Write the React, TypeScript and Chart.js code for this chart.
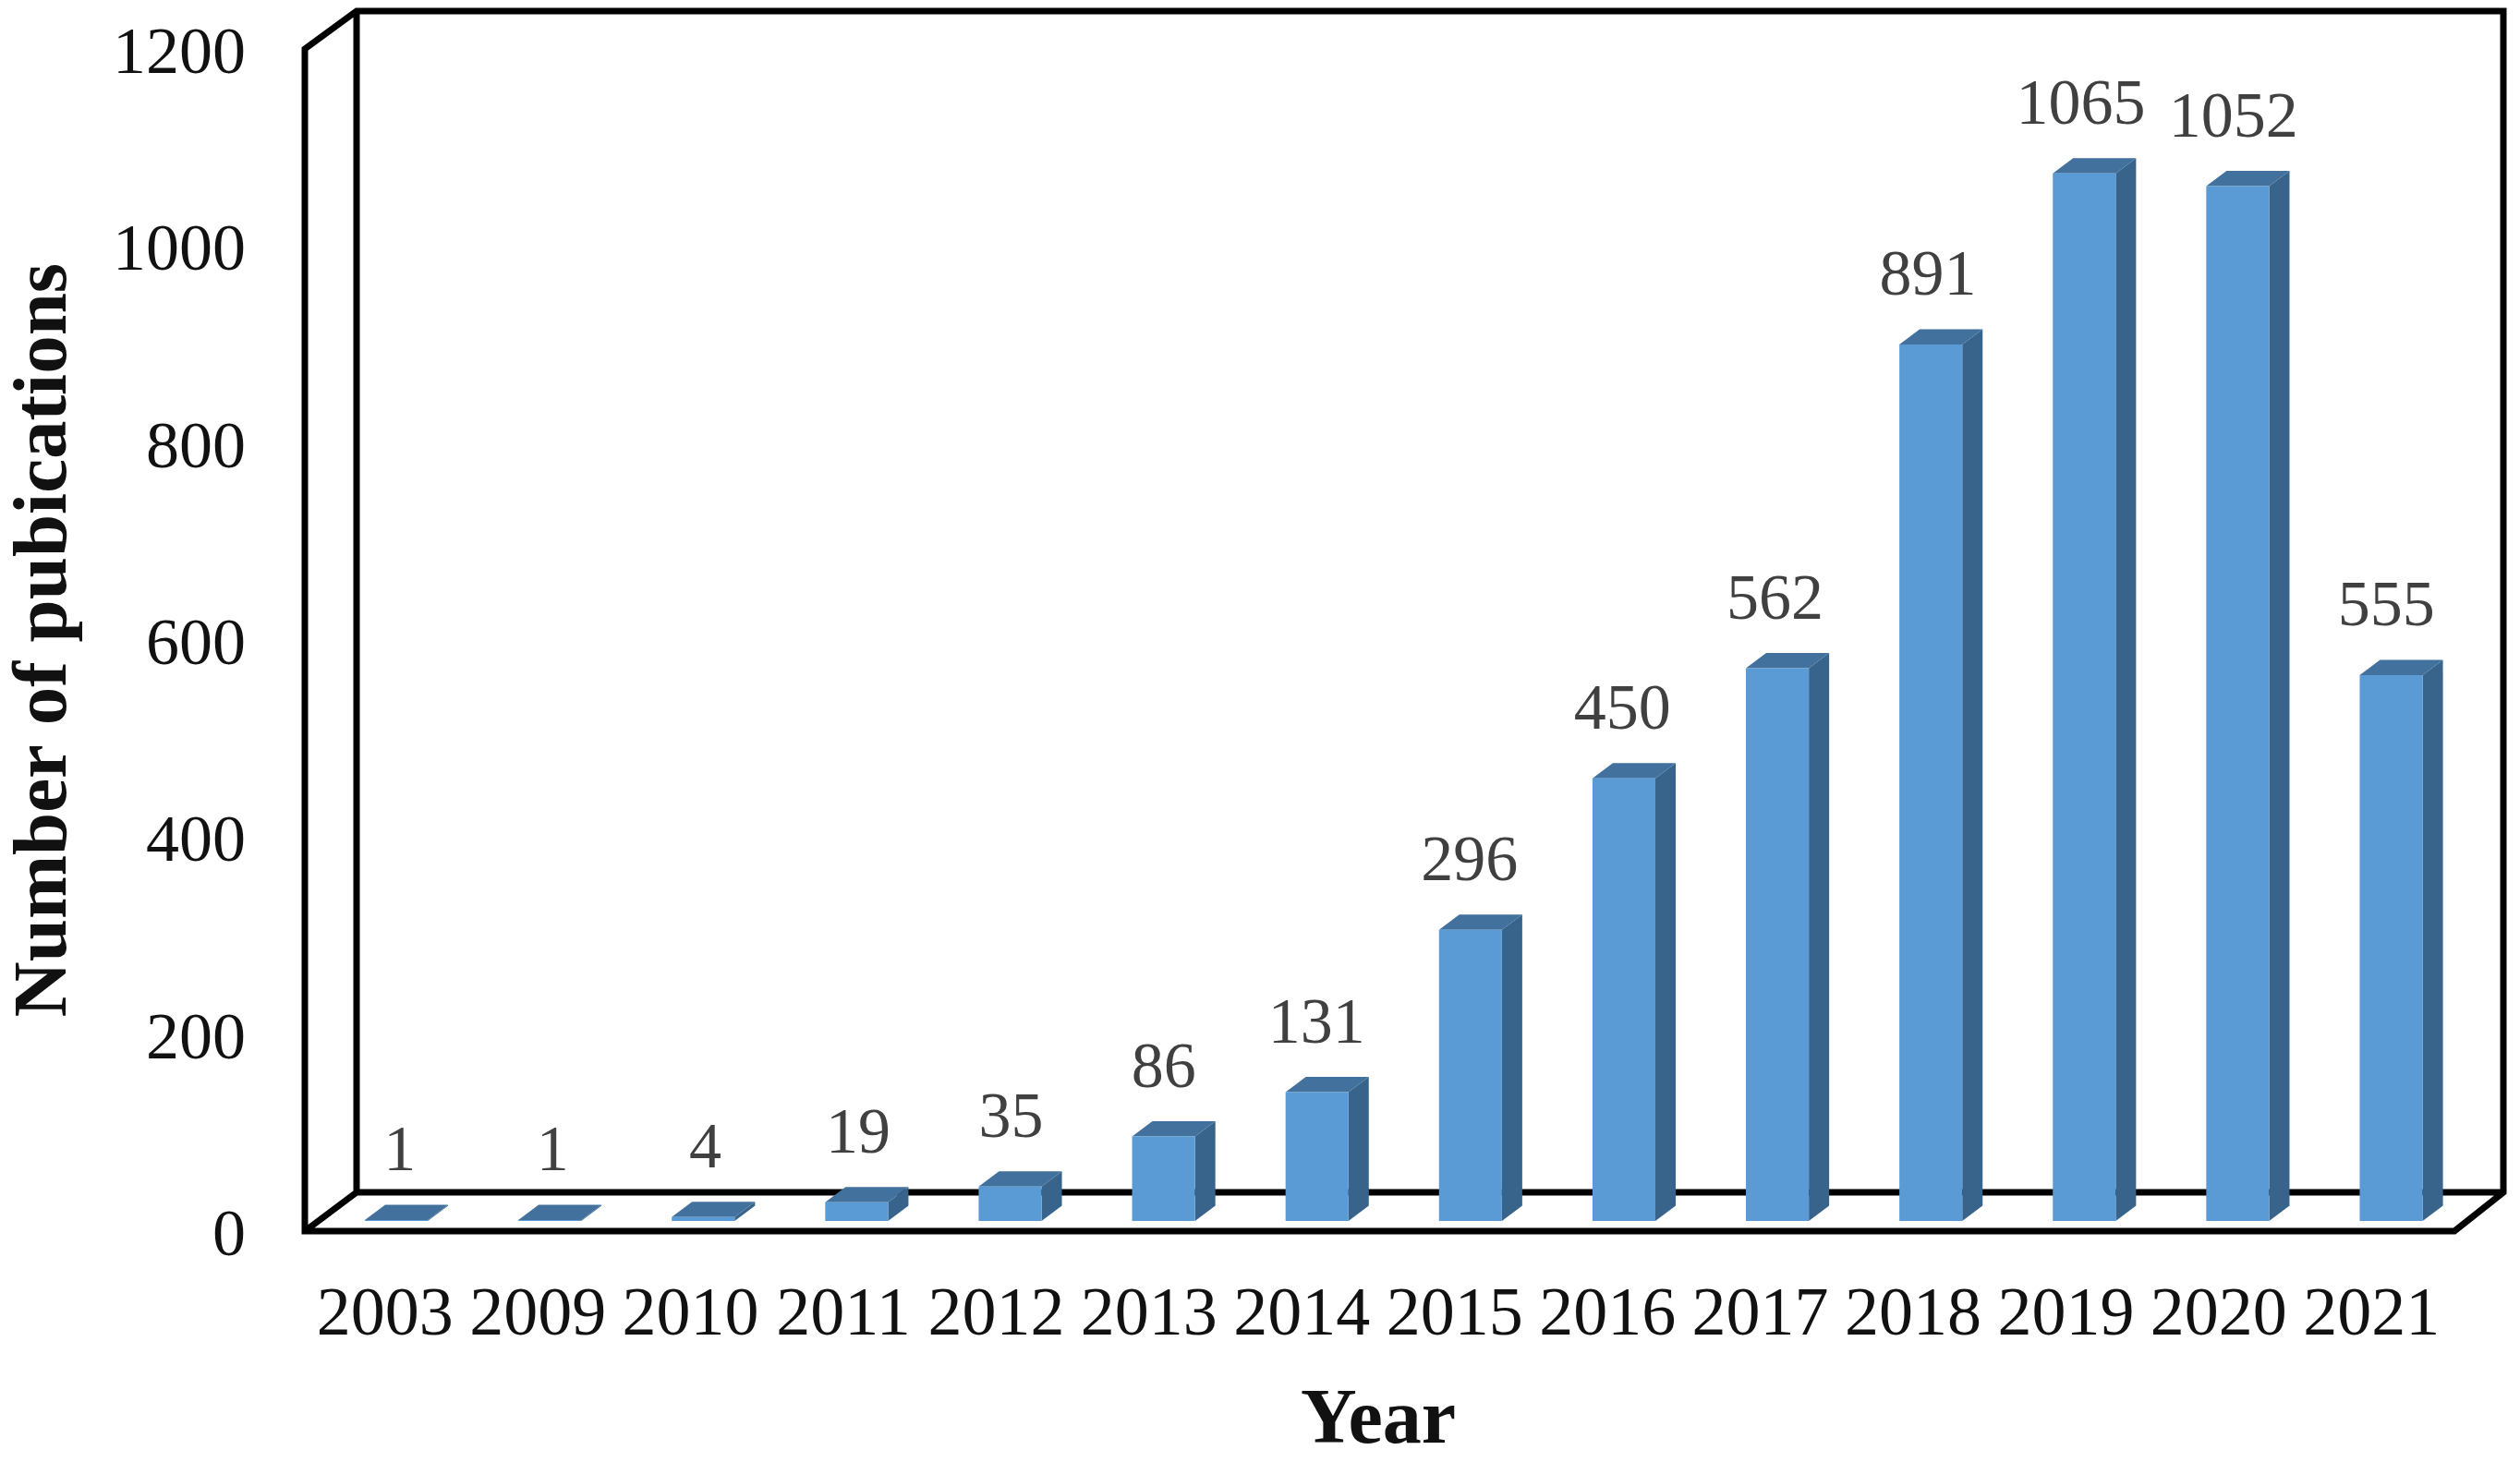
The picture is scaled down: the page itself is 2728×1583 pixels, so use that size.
import React, { useEffect, useRef } from "react";
import { Chart, registerables } from "chart.js";

Chart.register(...registerables);

const categories = ["2003", "2009", "2010", "2011", "2012", "2013", "2014", "2015", "2016", "2017", "2018", "2019", "2020", "2021"];
const publications = [1, 1, 4, 19, 35, 86, 131, 296, 450, 562, 891, 1065, 1052, 555];
const yTicks = [0, 200, 400, 600, 800, 1000, 1200];

const SERIF = "'Liberation Serif', 'Times New Roman', serif";
const FRONT = "#5B9BD5";
const TOP = "#41719C";
const SIDE = "#38648C";
const DX = 22;
const DY = 16.5;

const box3d = {
  id: "box3d",
  beforeDatasetsDraw(chart: any) {
    const { ctx, chartArea: a } = chart;
    const fl = a.left - 4;
    const fr = a.right + 7;
    const fb = a.bottom;
    const ft = a.top;
    const bl = fl + 56;
    const br = a.right + 60;
    const bb = fb - 42;
    const bt = ft - 41;
    ctx.save();
    ctx.strokeStyle = "#000";
    ctx.lineWidth = 7;
    ctx.lineJoin = "miter";
    ctx.beginPath();
    ctx.moveTo(fl, fb);
    ctx.lineTo(fl, ft);
    ctx.lineTo(bl, bt);
    ctx.lineTo(br, bt);
    ctx.lineTo(br, bb);
    ctx.lineTo(fr, fb);
    ctx.closePath();
    ctx.moveTo(bl, bt);
    ctx.lineTo(bl, bb);
    ctx.lineTo(fl, fb);
    ctx.moveTo(bl, bb);
    ctx.lineTo(br, bb);
    ctx.stroke();

    chart.getDatasetMeta(0).data.forEach((bar: any) => {
      const l = bar.x - bar.width / 2;
      const r = bar.x + bar.width / 2;
      ctx.fillStyle = SIDE;
      ctx.beginPath();
      ctx.moveTo(r, bar.base);
      ctx.lineTo(r + DX, bar.base - DY);
      ctx.lineTo(r + DX, bar.y - DY);
      ctx.lineTo(r, bar.y);
      ctx.closePath();
      ctx.fill();
      ctx.fillStyle = TOP;
      ctx.beginPath();
      ctx.moveTo(l, bar.y);
      ctx.lineTo(l + DX, bar.y - DY);
      ctx.lineTo(r + DX, bar.y - DY);
      ctx.lineTo(r, bar.y);
      ctx.closePath();
      ctx.fill();
    });
    ctx.restore();
  },
  afterDatasetsDraw(chart: any) {
    const { ctx } = chart;
    ctx.save();
    ctx.font = `70px ${SERIF}`;
    ctx.fillStyle = "#404040";
    ctx.textAlign = "center";
    ctx.textBaseline = "middle";
    chart.getDatasetMeta(0).data.forEach((bar: any, i: number) => {
      ctx.fillText(String(publications[i]), chart.scales.x.getPixelForValue(i) + 16, bar.y - 72);
    });
    ctx.restore();
  },
};

export default function App() {
  const ref = useRef<HTMLCanvasElement>(null);
  useEffect(() => {
    document.body.style.margin = "0";
    document.body.style.background = "#fff";
    const chart = new Chart(ref.current!, {
      type: "bar",
      plugins: [box3d],
      data: {
        labels: categories,
        datasets: [
          {
            label: "Number of pubications",
            data: publications.map((v, i) => ({ x: i, y: v })),
            xAxisID: "xBars",
            yAxisID: "yBars",
            backgroundColor: FRONT,
            borderWidth: 0,
            barPercentage: 0.41,
            categoryPercentage: 1,
          },
        ],
      },
      options: {
        responsive: false,
        animation: false,
        devicePixelRatio: 1,
        layout: { padding: { top: 53, right: 78, bottom: 0, left: 0 } },
        plugins: { legend: { display: false }, tooltip: { enabled: false }, title: { display: false } },
        scales: {
          x: {
            type: "category",
            position: "bottom",
            grid: { display: false, drawTicks: false },
            border: { display: false },
            ticks: { color: "#111", font: { family: SERIF, size: 74 }, padding: 48, maxRotation: 0, minRotation: 0, autoSkip: false },
            title: { display: true, text: "Year", color: "#111", font: { family: SERIF, size: 84, weight: "bold" }, padding: { top: 0, bottom: -8 } },
            afterFit: (s: any) => { s.height = 250; },
          },
          xBars: {
            type: "linear",
            display: false,
            min: -0.572,
            max: 13.37,
            offset: false,
            afterBuildTicks: (s: any) => { s.ticks = categories.map((_, i) => ({ value: i })); },
          },
          y: {
            type: "linear",
            position: "left",
            min: 0,
            max: 1200,
            grid: { display: false, drawTicks: false },
            border: { display: false },
            afterBuildTicks: (s: any) => { s.ticks = yTicks.map((value) => ({ value })); },
            ticks: { color: "#111", font: { family: SERIF, size: 72 }, padding: 68, labelOffset: 7, callback: (v: any) => String(v) },
            title: { display: true, text: "Number of pubications", color: "#111", font: { family: SERIF, size: 83, weight: "bold" }, padding: { top: 0, bottom: 0 } },
            afterFit: (s: any) => { s.width = 334; s.paddingTop = 0; s.paddingBottom = 0; },
          },
          yBars: { type: "linear", display: false, min: -10.3, max: 1191.5 },
        },
      } as any,
    });
    return () => chart.destroy();
  }, []);
  return <canvas ref={ref} width={2728} height={1583} style={{ display: "block", width: 2728, height: 1583 }} />;
}
